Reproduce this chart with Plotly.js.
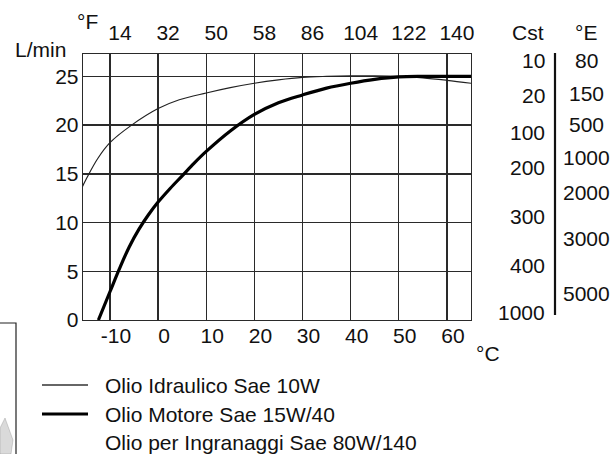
<!DOCTYPE html>
<html>
<head>
<meta charset="utf-8">
<script src="https://cdn.plot.ly/plotly-3.0.1.min.js"></script>
<style>
  html, body { margin: 0; padding: 0; background: #fff; }
  #chart { width: 613px; height: 454px; }
</style>
</head>
<body>
<div id="chart"></div>
<script>
// ---- data ----
const seriesNames = ["Olio Idraulico Sae 10W", "Olio Motore Sae 15W/40", "Olio per Ingranaggi Sae 80W/140"];

// Olio Idraulico Sae 10W (thin line): temperature °C -> flow L/min
const hydTemp = [-15.7, -14.9, -12.5, -10, -5.5, 0, 4.4, 10, 15, 20, 25, 30, 35, 40, 45, 50, 55, 60, 65];
const hydFlow = [13.7, 14.5, 16.6, 18.2, 20.0, 21.7, 22.6, 23.3, 23.85, 24.3, 24.65, 24.9, 25.0, 25.05, 25.05, 25.0, 24.85, 24.6, 24.3];

// Olio Motore Sae 15W/40 (thick line)
const engTemp = [-12.4, -10, -8, -6, -4, -2, 0, 2.5, 5, 7.5, 10, 15, 20, 25, 30, 35, 40, 45, 50, 55, 60, 65];
const engFlow = [0, 2.9, 5.3, 7.5, 9.3, 10.8, 12.1, 13.5, 14.8, 16.1, 17.3, 19.4, 21.1, 22.3, 23.1, 23.8, 24.3, 24.7, 24.95, 25.0, 25.0, 25.0];

// axis ticks
const celsiusTicks = [-10, 0, 10, 20, 30, 40, 50, 60];
const celsiusLabels = ["-10", "0", "10", "20", "30", "40", "50", "60"];
const fahrenheitLabels = ["14", "32", "50", "58", "86", "104", "122", "140"];
const flowTicks = [0, 5, 10, 15, 20, 25];

// viscosity side scale
const cstLabels = ["10", "20", "100", "200", "300", "400", "1000"];
const engLabels = ["80", "150", "500", "1000", "2000", "3000", "5000"];

// ---- layout helpers ----
const W = 613, H = 454;
const M = { l: 83, r: 142, t: 54, b: 134 };
const pw = W - M.l - M.r, ph = H - M.t - M.b;
const px = x => (x - M.l) / pw;          // pixel -> paper x
const py = y => (H - M.b - y) / ph;      // pixel -> paper y

const FONT = "Liberation Sans, Arial, Helvetica, sans-serif";
const INK = "#111";
const FS = 21;

// vertical positions (pixels) of the side-scale labels
const cstY = [60, 95, 132, 167, 217, 265, 312];
const engY = [60, 93, 125, 157, 192, 238, 293];

const traces = [
  { x: hydTemp, y: hydFlow, type: "scatter", mode: "lines", name: seriesNames[0],
    line: { color: "#222", width: 1.2, shape: "spline", smoothing: 1 }, hoverinfo: "skip" },
  { x: engTemp, y: engFlow, type: "scatter", mode: "lines", name: seriesNames[1],
    line: { color: "#000", width: 3.2, shape: "spline", smoothing: 1 }, hoverinfo: "skip" },
  // carrier for the °F scale on top (no visible marks)
  { x: celsiusTicks, y: celsiusTicks.map(() => null), xaxis: "x2", type: "scatter", mode: "markers",
    marker: { opacity: 0 }, showlegend: false, hoverinfo: "skip" }
];

const annotations = [];
const txt = (text, x, y, xanchor, extra) => Object.assign({
  text, xref: "paper", yref: "paper", x: px(x), y: py(y), xanchor: xanchor || "center",
  yanchor: "middle", showarrow: false, font: { family: FONT, size: FS, color: INK }
}, extra || {});

annotations.push(txt("°F", 87, 21));
annotations.push(txt("L/min", 13, 50, "left"));
annotations.push(txt("°C", 488, 353));
annotations.push(txt("Cst", 528, 33));
annotations.push(txt("°E", 586, 33));
cstLabels.forEach((t, i) => annotations.push(txt(t, 547, cstY[i], "right")));
engLabels.forEach((t, i) => annotations.push(txt(t, 586, engY[i], "center")));

// legend (manual, to match the drawing)
const legendY = [385, 414, 442];
const legendStyle = [{ color: "#333", width: 1.3 }, { color: "#000", width: 3 }, null];
seriesNames.forEach((n, i) => annotations.push(txt(n, 103, legendY[i], "left")));

const shapes = [];
legendStyle.forEach((st, i) => {
  if (!st) return;
  shapes.push({ type: "line", xref: "paper", yref: "paper",
    x0: px(42), x1: px(88), y0: py(legendY[i]), y1: py(legendY[i]), line: st });
});
// side scale bar
shapes.push({ type: "line", xref: "paper", yref: "paper",
  x0: px(555), x1: px(555), y0: py(53), y1: py(315), line: { color: "#111", width: 2.2 } });
// fragment of a neighbouring box at lower left
shapes.push({ type: "path", xref: "paper", yref: "paper",
  path: `M ${px(-2)} ${py(323)} L ${px(16)} ${py(323)} L ${px(16)} ${py(456)}`,
  line: { color: "#222", width: 1.2 } });
shapes.push({ type: "path", xref: "paper", yref: "paper",
  path: `M ${px(0)} ${py(428)} L ${px(5)} ${py(418)} L ${px(13)} ${py(440)} L ${px(11)} ${py(454)} L ${px(0)} ${py(454)} Z`,
  fillcolor: "rgba(150,150,150,0.35)", line: { color: "rgba(120,120,120,0.5)", width: 0.6 } });

const axisCommon = {
  showgrid: true, gridcolor: "#2a2a2a", gridwidth: 1.3, zeroline: false,
  showline: true, mirror: true, linecolor: "#2a2a2a", linewidth: 1.3,
  ticks: "", tickfont: { family: FONT, size: FS, color: INK }, fixedrange: true
};

const layout = {
  width: W, height: H,
  margin: { l: M.l, r: M.r, t: M.t, b: M.b, pad: 0 },
  paper_bgcolor: "#fff", plot_bgcolor: "#fff",
  showlegend: false,
  font: { family: FONT, size: FS, color: INK },
  xaxis: Object.assign({}, axisCommon, {
    range: [-15.6, 65.0], tickmode: "array", tickvals: celsiusTicks, ticktext: celsiusLabels,
    ticklabelshift: 6, ticklabelstandoff: -4
  }),
  xaxis2: Object.assign({}, axisCommon, {
    overlaying: "x", side: "top", anchor: "y", showgrid: false, showline: false,
    range: [-15.6, 65.0], tickmode: "array", tickvals: celsiusTicks, ticktext: fahrenheitLabels,
    ticklabelshift: 10, ticklabelstandoff: 9
  }),
  yaxis: Object.assign({}, axisCommon, {
    range: [0, 27.3], tickmode: "array", tickvals: flowTicks, ticklabelstandoff: -1
  }),
  annotations, shapes
};

Plotly.newPlot("chart", traces, layout, { staticPlot: true, displayModeBar: false });
</script>
</body>
</html>
